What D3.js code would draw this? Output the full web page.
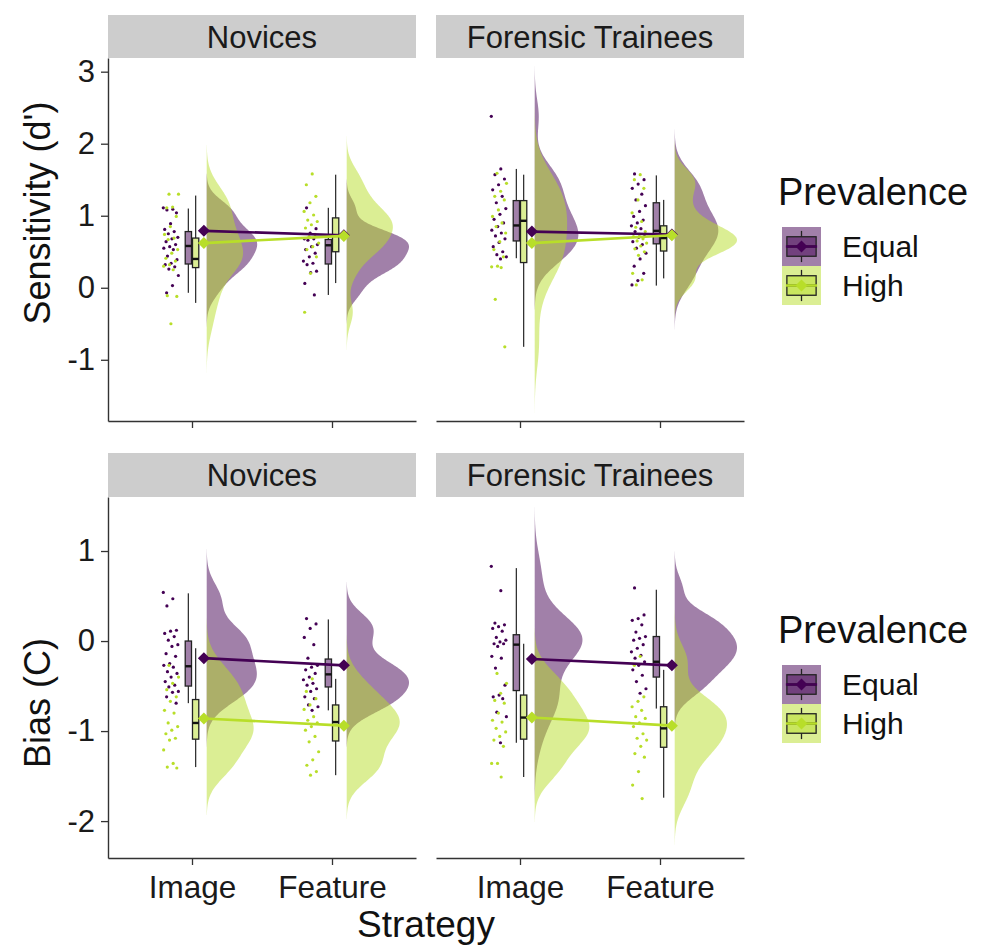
<!DOCTYPE html>
<html><head><meta charset="utf-8">
<script src="https://cdn.jsdelivr.net/npm/d3@7"></script>
<style>
body{margin:0;background:#fff}
svg{display:block}
text{font-family:"Liberation Sans",Arial,Helvetica,sans-serif}
</style>
</head><body>
<svg id="c" width="984" height="948"></svg>
<script>
// ---------------- DATA ----------------
const strategies = ["Image", "Feature"];
const prevalences = ["Equal", "High"];
const groupNames = ["Novices", "Forensic Trainees"];
const measureTitles = ["Sensitivity (d')", "Bias (C)"];
const yTicksSens = [-1, 0, 1, 2, 3];
const yTicksBias = [-2, -1, 0, 1];
const xAxisTitle = "Strategy";
const legendTitle = "Prevalence";

// Sensitivity (d') - Novices
const sNovImgEq = [1.11,1.09,1.08,1.04,0.89,0.81,0.78,0.75,0.70,0.68,0.64,0.60,0.57,0.55,0.53,0.44,0.39,0.34,0.32,0.29,0.26,0.17,0.03,-0.07];
const sNovImgHi = [1.30,1.30,1.12,1.11,0.99,0.85,0.74,0.69,0.67,0.53,0.48,0.41,0.37,0.32,0.30,0.25,-0.11,-0.12,-0.50];
const sNovFeaEq = [1.11,0.82,0.76,0.68,0.68,0.66,0.60,0.57,0.53,0.48,0.43,0.37,0.34,0.32,0.23,0.21,0.06,-0.10];
const sNovFeaHi = [1.58,1.43,1.27,1.18,1.06,1.01,0.94,0.92,0.875,0.83,0.74,0.71,0.62,0.57,0.53,0.43,0.20,-0.34];
// box stats [lowWhisker, q1, median, q3, highWhisker] : ImageEqual, ImageHigh, FeatureEqual, FeatureHigh
const sNovBox = [[-0.07,0.33,0.58,0.78,1.10],[-0.21,0.28,0.40,0.69,1.28],[-0.10,0.33,0.59,0.67,1.11],[0.065,0.50,0.72,0.97,1.57]];
const sNovMeanEq = [0.79, 0.73];
const sNovMeanHi = [0.62, 0.72];

// Sensitivity (d') - Forensic Trainees
const sForImgEq = [2.38,1.65,1.57,1.51,1.43,1.36,1.27,1.18,1.10,1.02,0.95,0.90,0.85,0.80,0.76,0.72,0.68,0.63,0.57,0.50,0.46,0.43,0.40];
const sForImgHi = [1.59,1.45,1.34,1.27,1.22,1.08,0.99,0.90,0.85,0.76,0.64,0.53,0.43,0.30,0.29,0.28,-0.16,-0.82];
const sForFeaEq = [1.58,1.50,1.44,1.38,1.30,1.22,1.14,1.06,0.99,0.94,0.90,0.86,0.82,0.78,0.74,0.70,0.64,0.60,0.55,0.48,0.40,0.30,0.20,0.10,0.04];
const sForFeaHi = [1.57,1.50,1.38,1.22,1.04,0.92,0.84,0.78,0.74,0.71,0.68,0.65,0.62,0.58,0.54,0.50,0.45,0.20,0.11,0.04];
const sForBox = [[0.41,0.65,0.865,1.21,1.65],[-0.82,0.35,0.93,1.21,1.57],[0.03,0.61,0.79,1.18,1.56],[0.13,0.51,0.69,0.86,1.22]];
const sForMeanEq = [0.78, 0.74];
const sForMeanHi = [0.62, 0.73];

// Bias (C) - Novices
const bNovImgEq = [0.54,0.47,0.39,0.12,0.11,0.085,0.05,0.01,-0.04,-0.06,-0.14,-0.17,-0.25,-0.27,-0.29,-0.34,-0.36,-0.40,-0.45,-0.49,-0.51,-0.56,-0.57,-0.62,-0.69];
const bNovImgHi = [-0.27,-0.40,-0.47,-0.54,-0.62,-0.67,-0.77,-0.80,-0.91,-0.95,-0.99,-1.03,-1.08,-1.10,-1.21,-1.36,-1.40,-1.41];
const bNovFeaEq = [0.25,0.19,0.14,0.04,-0.04,-0.19,-0.27,-0.29,-0.32,-0.36,-0.40,-0.43,-0.47,-0.49,-0.53,-0.56,-0.62,-0.64,-0.71,-0.73,-0.77];
const bNovFeaHi = [-0.42,-0.56,-0.64,-0.71,-0.76,-0.84,-0.88,-0.91,-0.95,-0.99,-1.06,-1.12,-1.23,-1.32,-1.38,-1.45,-1.49];
const bNovBox = [[-0.69,-0.50,-0.28,0.00,0.53],[-1.40,-1.09,-0.91,-0.65,-0.08],[-0.77,-0.51,-0.37,-0.20,0.24],[-1.49,-1.11,-0.90,-0.71,-0.42]];
const bNovMeanEq = [-0.19, -0.27];
const bNovMeanHi = [-0.86, -0.94];

// Bias (C) - Forensic Trainees
const bForImgEq = [0.83,0.56,0.20,0.18,0.16,0.14,0.11,0.04,0.01,-0.01,-0.03,-0.03,-0.06,-0.17,-0.19,-0.30,-0.49,-0.60,-0.62,-0.64,-0.79,-0.84,-1.13];
const bForImgHi = [-0.36,-0.47,-0.58,-0.66,-0.69,-0.80,-0.88,-0.90,-0.97,-1.01,-1.06,-1.10,-1.17,-1.36,-1.36,-1.51];
const bForFeaEq = [0.59,0.29,0.25,0.23,0.18,0.10,0.05,0.03,0.01,-0.04,-0.08,-0.12,-0.16,-0.19,-0.23,-0.27,-0.32,-0.38,-0.45,-0.53,-0.58];
const bForFeaHi = [-0.17,-0.27,-0.62,-0.67,-0.73,-0.77,-0.84,-0.86,-0.91,-0.95,-1.03,-1.08,-1.10,-1.17,-1.25,-1.29,-1.45,-1.60,-1.75];
const bForBox = [[-1.13,-0.55,-0.04,0.07,0.81],[-1.51,-1.09,-0.85,-0.60,-0.03],[-0.75,-0.40,-0.23,0.05,0.57],[-1.74,-1.18,-0.97,-0.73,-0.32]];
const bForMeanEq = [-0.20, -0.27];
const bForMeanHi = [-0.85, -0.94];

// ---------------- LAYOUT / STYLE ----------------
const FONT_TICK = 31.5, FONT_YTICK = 31, FONT_STRIP = 31, FONT_TITLE = 36, FONT_XTITLE = 37, FONT_LEG_T = 38, FONT_LEG = 30;
const colors = {Equal: "#440154", High: "#B8DE29"};
const fillAlpha = 0.5;
const panelX = [[108, 416], [436, 744]];
const rowsDef = [
  {title: measureTitles[0], ticks: yTicksSens, domain: [-1.85, 3.19], y0: 58, y1: 421, strip: [15, 58], showXLabels: false, legendDY: 0, titleY: 213,
   panels: [
     {pts: [[sNovImgEq, sNovImgHi], [sNovFeaEq, sNovFeaHi]], box: sNovBox, means: [sNovMeanEq, sNovMeanHi]},
     {pts: [[sForImgEq, sForImgHi], [sForFeaEq, sForFeaHi]], box: sForBox, means: [sForMeanEq, sForMeanHi]}
   ]},
  {title: measureTitles[1], ticks: yTicksBias, domain: [-2.41, 1.60], y0: 497, y1: 858, strip: [453, 497], showXLabels: true, legendDY: 438, titleY: 703,
   panels: [
     {pts: [[bNovImgEq, bNovImgHi], [bNovFeaEq, bNovFeaHi]], box: bNovBox, means: [bNovMeanEq, bNovMeanHi]},
     {pts: [[bForImgEq, bForImgHi], [bForFeaEq, bForFeaHi]], box: bForBox, means: [bForMeanEq, bForMeanHi]}
   ]}
];

const svg = d3.select("#c");
const defs = svg.append("defs");

function fillOf(p) {
  const c = d3.color(colors[p]); c.opacity = fillAlpha; return c.formatRgb();
}
function nrd0(v) {
  const s = d3.deviation(v);
  const sorted = [...v].sort(d3.ascending);
  const iqr = d3.quantileSorted(sorted, 0.75) - d3.quantileSorted(sorted, 0.25);
  let lo = Math.min(s, iqr / 1.34);
  if (!(lo > 0)) lo = s || 1;
  return 0.9 * lo * Math.pow(v.length, -0.2);
}
function kde(v) {
  const bw = nrd0(v);
  const lo = d3.min(v) - 3 * bw, hi = d3.max(v) + 3 * bw;
  const n = 256, out = [];
  for (let i = 0; i < n; i++) {
    const g = lo + (hi - lo) * i / (n - 1);
    let s = 0;
    for (const x of v) { const z = (g - x) / bw; s += Math.exp(-0.5 * z * z); }
    out.push([g, s / (v.length * bw * Math.sqrt(2 * Math.PI))]);
  }
  return out;
}
const diamond = r => `M0,${-r}L${r},0L0,${r}L${-r},0Z`;
const fmtTick = d => (d < 0 ? "-" : "") + Math.abs(d);

const VIOLIN_OFF = 0.105, VIOLIN_W = 0.445, POINT_OFF = -0.15, JIT = 0.055;
const BOX_DODGE = 0.026, BOX_W = 0.045, MEAN_OFF = 0.085;

rowsDef.forEach((row, ri) => {
  const y = d3.scaleLinear().domain(row.domain).range([row.y1, row.y0]);
  row.panels.forEach((pan, pi) => {
    const [px0, px1] = panelX[pi];
    const x = d3.scaleLinear().domain([0.4, 2.6]).range([px0, px1]);
    const unit = x(1) - x(0);
    const clipId = `clip${ri}${pi}`;
    defs.append("clipPath").attr("id", clipId).append("rect")
      .attr("x", px0).attr("y", row.y0).attr("width", px1 - px0).attr("height", row.y1 - row.y0);

    // strip
    svg.append("rect").attr("x", px0).attr("y", row.strip[0]).attr("width", px1 - px0)
      .attr("height", row.strip[1] - row.strip[0]).attr("fill", "#CDCDCD");
    svg.append("text").attr("x", (px0 + px1) / 2).attr("y", (row.strip[0] + row.strip[1]) / 2)
      .attr("dy", "0.36em").attr("text-anchor", "middle").attr("font-size", FONT_STRIP)
      .attr("fill", "#1a1a1a").text(groupNames[pi]);

    const g = svg.append("g").attr("clip-path", `url(#${clipId})`);

    // densities
    const dens = pan.pts.map(pair => pair.map(v => kde(v)));
    const maxD = d3.max(dens.flat(), d => d3.max(d, e => e[1]));

    // violins
    prevalences.forEach((p, k) => {
      strategies.forEach((s, si) => {
        const base = x(si + 1 + VIOLIN_OFF);
        const area = d3.area()
          .y(d => y(d[0]))
          .x0(base)
          .x1(d => base + d[1] / maxD * VIOLIN_W * unit)
          .curve(d3.curveLinear);
        g.append("path").datum(dens[si][k]).attr("d", area).attr("fill", fillOf(p)).attr("stroke", "none");
      });
    });

    // points
    prevalences.forEach((p, k) => {
      strategies.forEach((s, si) => {
        const vals = pan.pts[si][k];
        g.selectAll(null).data(vals).enter().append("circle")
          .attr("cx", (d, i) => x(si + 1 + POINT_OFF + (((i * 0.6180339887 + k * 0.37 + si * 0.21) % 1) - 0.5) * 2 * JIT))
          .attr("cy", d => y(d))
          .attr("r", 1.6)
          .attr("fill", colors[p]);
      });
    });

    // boxplots
    strategies.forEach((s, si) => {
      prevalences.forEach((p, k) => {
        const b = pan.box[si * 2 + k];
        const cx = x(si + 1 + (k === 0 ? -BOX_DODGE : BOX_DODGE));
        const hw = BOX_W * unit / 2;
        g.append("line").attr("x1", cx).attr("x2", cx).attr("y1", y(b[0])).attr("y2", y(b[1]))
          .attr("stroke", "#333").attr("stroke-width", 1.3);
        g.append("line").attr("x1", cx).attr("x2", cx).attr("y1", y(b[3])).attr("y2", y(b[4]))
          .attr("stroke", "#333").attr("stroke-width", 1.3);
        g.append("rect").attr("x", cx - hw).attr("width", 2 * hw)
          .attr("y", y(b[3])).attr("height", y(b[1]) - y(b[3]))
          .attr("fill", fillOf(p)).attr("stroke", "#222").attr("stroke-width", 1.3);
        g.append("line").attr("x1", cx - hw).attr("x2", cx + hw).attr("y1", y(b[2])).attr("y2", y(b[2]))
          .attr("stroke", "#111").attr("stroke-width", 2.4);
      });
    });

    // means
    prevalences.forEach((p, k) => {
      const m = pan.means[k];
      const line = d3.line().x((d, si) => x(si + 1 + MEAN_OFF)).y(d => y(d));
      g.append("path").datum(m).attr("d", line).attr("fill", "none")
        .attr("stroke", colors[p]).attr("stroke-width", 2.6);
      g.selectAll(null).data(m).enter().append("path")
        .attr("transform", (d, si) => `translate(${x(si + 1 + MEAN_OFF)},${y(d)})`)
        .attr("d", diamond(6)).attr("fill", colors[p]);
    });

    // x axis
    const xa = d3.axisBottom(x).tickValues([1, 2]).tickSize(7).tickSizeOuter(0).tickPadding(11)
      .tickFormat((d, i) => row.showXLabels ? strategies[i] : "");
    const gx = svg.append("g").attr("transform", `translate(0,${row.y1})`).call(xa);
    gx.select(".domain").attr("stroke", "#333").attr("stroke-width", 1.4);
    gx.selectAll(".tick line").attr("stroke", "#333").attr("stroke-width", 1.3);
    gx.selectAll(".tick text").attr("font-size", FONT_TICK).attr("fill", "#1a1a1a")
      .attr("font-family", '"Liberation Sans",Arial,sans-serif');

    // y axis (left panel only)
    if (pi === 0) {
      const ya = d3.axisLeft(y).tickValues(row.ticks).tickSize(7).tickSizeOuter(0).tickPadding(6)
        .tickFormat(fmtTick);
      const gy = svg.append("g").attr("transform", `translate(${px0},0)`).call(ya);
      gy.select(".domain").attr("stroke", "#333").attr("stroke-width", 1.4);
      gy.selectAll(".tick line").attr("stroke", "#333").attr("stroke-width", 1.3);
      gy.selectAll(".tick text").attr("font-size", FONT_YTICK).attr("fill", "#1a1a1a")
        .attr("font-family", '"Liberation Sans",Arial,sans-serif');
    }
  });

  // y title
  svg.append("text").attr("transform", `translate(50,${row.titleY}) rotate(-90)`)
    .attr("text-anchor", "middle").attr("font-size", FONT_TITLE).attr("fill", "#111").text(row.title);

  // legend
  const ly = row.legendDY;
  svg.append("text").attr("x", 778).attr("y", 205 + ly).attr("font-size", FONT_LEG_T).attr("fill", "#111").text(legendTitle);
  prevalences.forEach((p, k) => {
    const kx = 782, ky = 227 + ly + k * 39, ks = 39;
    const kg = svg.append("g").attr("transform", `translate(${kx},${ky})`);
    kg.append("rect").attr("width", ks).attr("height", ks).attr("fill", fillOf(p));
    kg.append("line").attr("x1", ks / 2).attr("x2", ks / 2).attr("y1", ks * 0.1).attr("y2", ks * 0.25).attr("stroke", "#222").attr("stroke-width", 1.3);
    kg.append("line").attr("x1", ks / 2).attr("x2", ks / 2).attr("y1", ks * 0.75).attr("y2", ks * 0.9).attr("stroke", "#222").attr("stroke-width", 1.3);
    kg.append("rect").attr("x", ks * 0.125).attr("y", ks * 0.25).attr("width", ks * 0.75).attr("height", ks * 0.5)
      .attr("fill", fillOf(p)).attr("stroke", "#222").attr("stroke-width", 1.3);
    kg.append("line").attr("x1", ks * 0.125).attr("x2", ks * 0.875).attr("y1", ks / 2).attr("y2", ks / 2).attr("stroke", "#111").attr("stroke-width", 2);
    kg.append("line").attr("x1", ks * 0.1).attr("x2", ks * 0.9).attr("y1", ks / 2).attr("y2", ks / 2).attr("stroke", colors[p]).attr("stroke-width", 2.4);
    kg.append("path").attr("transform", `translate(${ks / 2},${ks / 2})`).attr("d", diamond(6)).attr("fill", colors[p]);
    svg.append("text").attr("x", 842).attr("y", ky + ks / 2).attr("dy", "0.36em")
      .attr("font-size", FONT_LEG).attr("fill", "#111").text(p);
  });
});

// x title
svg.append("text").attr("x", (panelX[0][0] + panelX[1][1]) / 2).attr("y", 937)
  .attr("text-anchor", "middle").attr("font-size", FONT_XTITLE).attr("fill", "#111").text(xAxisTitle);
</script>
</body></html>
